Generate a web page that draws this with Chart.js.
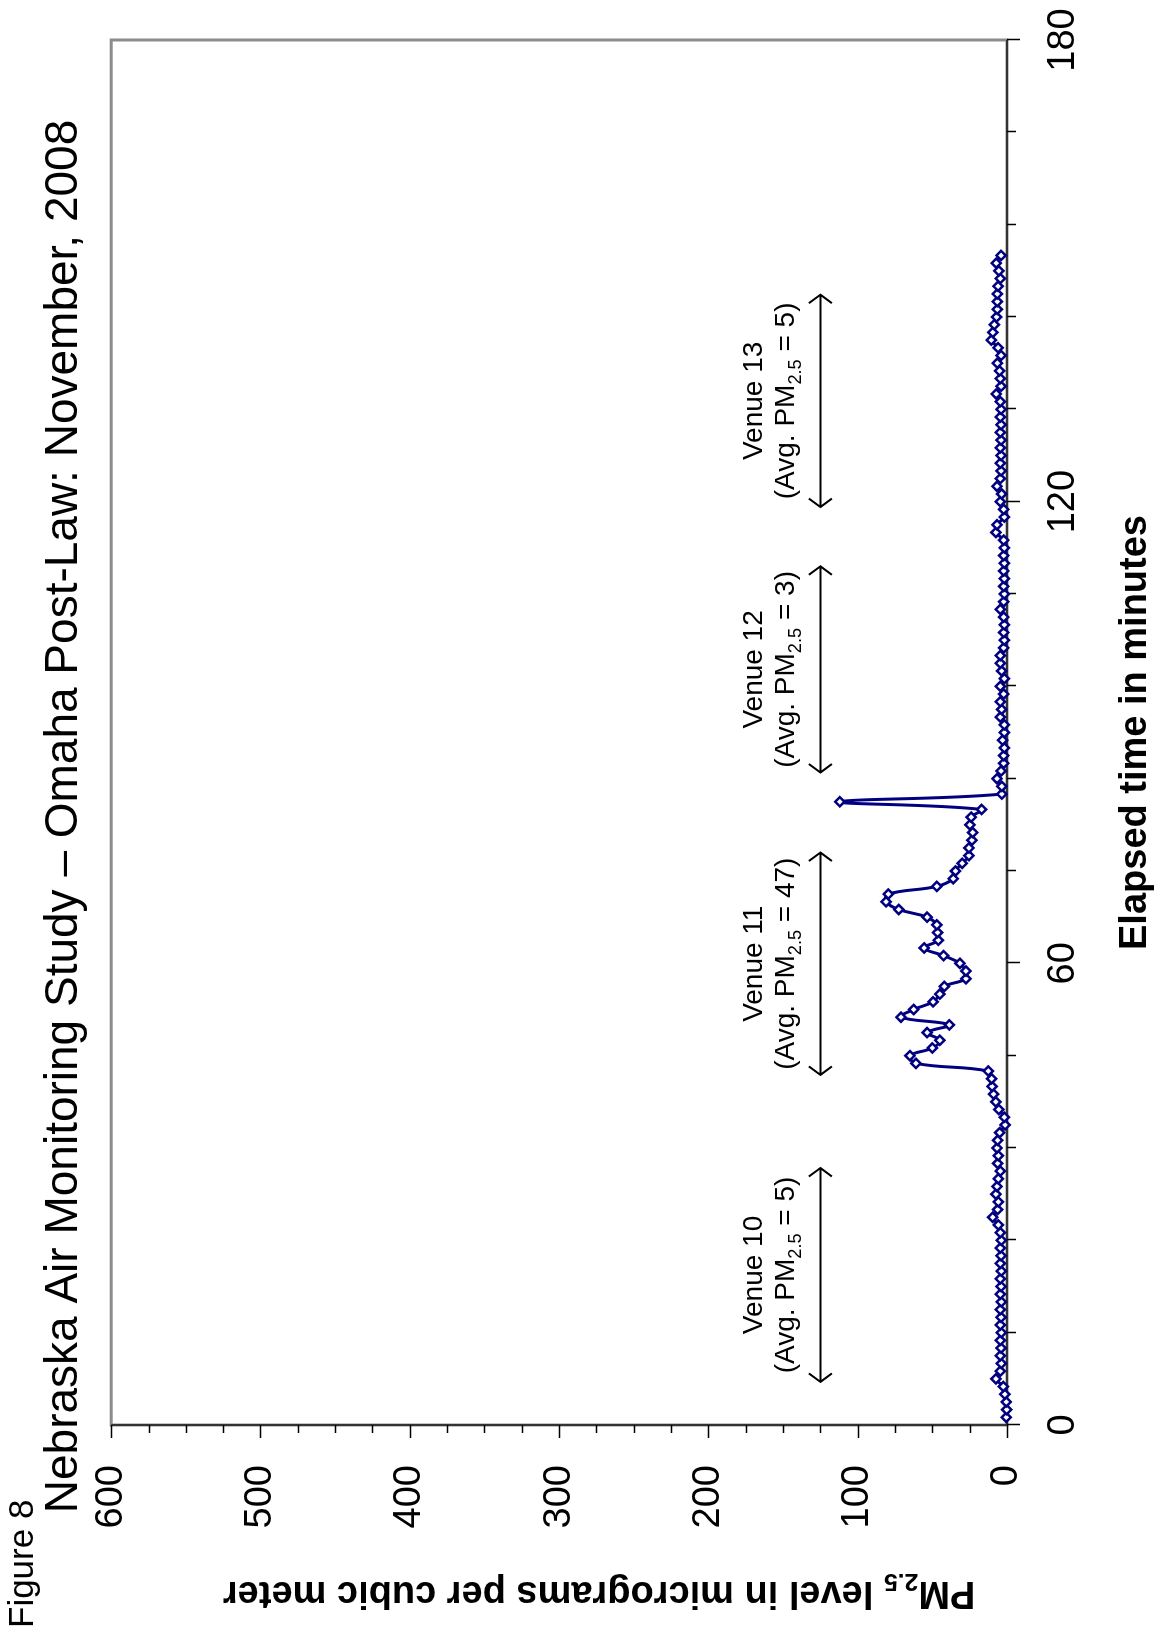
<!DOCTYPE html>
<html><head><meta charset="utf-8">
<script src="https://cdn.jsdelivr.net/npm/chart.js@4.4.1/dist/chart.umd.min.js"></script>
<style>
html,body{margin:0;padding:0;background:#fff;width:1164px;height:1640px;overflow:hidden;}
#wrap{position:absolute;left:0;top:0;width:1640px;height:1164px;transform-origin:0 0;transform:translate(0,1640px) rotate(-90deg);}
canvas{display:block;}
</style></head><body>
<div id="wrap"><canvas id="c" width="1640" height="1164"></canvas></div>
<script>
// ---- data (elapsed minutes, PM2.5 µg/m³) ----
const minutes = [1,2,3,4,5,6,7,8,9,10,11,12,13,14,15,16,17,18,19,20,21,22,23,24,25,26,27,28,29,30,
31,32,33,34,35,36,37,38,39,40,41,42,43,44,45,46,47,48,49,50,51,52,53,54,55,56,57,58,59,60,
61,62,63,64,65,66,67,68,69,70,71,72,73,74,75,76,77,78,79,80,81,82,83,84,85,86,87,88,89,90,
91,92,93,94,95,96,97,98,99,100,101,102,103,104,105,106,107,108,109,110,111,112,113,114,115,116,117,118,119,120,
121,122,123,124,125,126,127,128,129,130,131,132,133,134,135,136,137,138,139,140,141,142,143,144,145,146,147,148,149,150,151,152];
const pm25 = [0.5,0.2,0.5,1.5,2.5,7.4,4.5,3.8,4.5,4.0,4.5,3.8,4.5,4.0,4.5,3.8,4.5,4.0,4.5,3.8,4.5,4.0,4.5,3.8,4.5,5.8,9.6,6.3,5.8,7.4,
6.7,5.8,4.5,6.3,5.8,6.7,6.3,4.9,1.3,1.8,5.5,7.5,9.0,10.0,10.3,12.5,61,65,50,45,53.5,38.6,71,62.5,49.5,45,42,27.5,27.5,31.5,
42.5,55.5,46,46.5,47,53.5,72.5,81,79.5,47,36,34.5,30,25.5,25.5,23.5,23,24.8,24,17,112,3.5,3.5,6.7,4,2.2,2.2,1.8,3,1.8,
1.8,4.5,3.6,4.5,2.2,4.5,1.8,3.6,4.5,4.5,2.2,1.8,2.2,1.8,2.2,4.5,2.2,1.8,2.2,1.8,2.2,1.8,2.2,1.8,2.2,7.4,6.7,1.8,2.2,4.5,
3.6,6.7,4.5,4,4.5,4,4.5,4,4.5,4,4.5,4,4.5,7.2,4,4.5,5,6.5,4,6,10.5,9.5,8.5,7,6.5,6.5,6.5,6,4.5,5.5,7.2,4];
const timeTickLabels = [0,60,120,180];
const pmTickLabels = [0,100,200,300,400,500,600];
const venueNames = ['Venue 10','Venue 11','Venue 12','Venue 13'];
const venueAvg = ['5','47','3','5'];
const venueStart = [5.6,45.5,84.8,119.3];
const venueEnd = [33.4,74.4,111.6,146.9];
const arrowLevel = [125,125,125,125];

const FONT = '"Liberation Sans", Arial, Helvetica, sans-serif';
Chart.defaults.font.family = FONT;
Chart.defaults.color = '#000';

function drawRich(ctx, parts, cx, baseY, size, bold) {
  const f = s => (bold ? 'bold ' : '') + s + 'px ' + FONT;
  let total = 0;
  parts.forEach(p => { ctx.font = f(p.sub ? size * 0.65 : size); p.w = ctx.measureText(p.t).width; total += p.w; });
  let x = cx - total / 2;
  ctx.textAlign = 'left'; ctx.textBaseline = 'alphabetic';
  parts.forEach(p => { ctx.font = f(p.sub ? size * 0.65 : size); ctx.fillText(p.t, x, baseY + (p.sub ? size * 0.22 : 0)); x += p.w; });
}

const deco = {
  id: 'deco',
  beforeDatasetsDraw(chart) {
    const {ctx, chartArea: a, scales: {x, y}} = chart;
    ctx.save();
    ctx.strokeStyle = '#8c8c8c'; ctx.lineWidth = 3;
    ctx.strokeRect(a.left, a.top, a.right - a.left, a.bottom - a.top);
    ctx.strokeStyle = '#333'; ctx.lineWidth = 2;
    ctx.beginPath();
    ctx.moveTo(a.left, a.top); ctx.lineTo(a.left, a.bottom);
    ctx.moveTo(a.left, a.bottom); ctx.lineTo(a.right, a.bottom);
    ctx.stroke();
    ctx.strokeStyle = '#000'; ctx.lineWidth = 1.5;
    ctx.beginPath();
    for (let v = 0; v <= 600; v += 25) {
      const py = Math.round(y.getPixelForValue(v)) + 0.5;
      const len = pmTickLabels.includes(v) ? 13 : 8;
      ctx.moveTo(a.left, py); ctx.lineTo(a.left - len, py);
    }
    for (let t = 0; t <= 180; t += 12) {
      const px = Math.round(x.getPixelForValue(t)) + 0.5;
      const len = timeTickLabels.includes(t) ? 13 : 9;
      ctx.moveTo(px, a.bottom); ctx.lineTo(px, a.bottom + len);
    }
    ctx.stroke();
    ctx.restore();
  },
  afterDraw(chart) {
    const {ctx, chartArea: a, scales: {x, y}} = chart;
    ctx.save();
    ctx.fillStyle = '#000';
    // venue annotations
    ctx.strokeStyle = '#000'; ctx.lineWidth = 2;
    venueNames.forEach((name, i) => {
      const x0 = x.getPixelForValue(venueStart[i]);
      const x1 = x.getPixelForValue(venueEnd[i]);
      const py = y.getPixelForValue(arrowLevel[i]);
      ctx.beginPath();
      ctx.moveTo(x0, py); ctx.lineTo(x1, py);
      ctx.moveTo(x0 + 8.5, py - 11.5); ctx.lineTo(x0, py); ctx.lineTo(x0 + 8.5, py + 11.5);
      ctx.moveTo(x1 - 8.5, py - 11.5); ctx.lineTo(x1, py); ctx.lineTo(x1 - 8.5, py + 11.5);
      ctx.stroke();
      const cx = (x0 + x1) / 2;
      ctx.font = '28px ' + FONT; ctx.textAlign = 'center'; ctx.textBaseline = 'alphabetic';
      ctx.fillText(name, cx, py - 58);
      drawRich(ctx, [{t: '(Avg. PM'}, {t: '2.5', sub: true}, {t: ' = ' + venueAvg[i] + ')'}], cx, py - 26, 28, false);
    });
    // y axis title (with subscript)
    ctx.save();
    ctx.translate(58, (a.top + a.bottom) / 2 + 40);
    ctx.rotate(-Math.PI / 2);
    drawRich(ctx, [{t: 'PM'}, {t: '2.5', sub: true}, {t: ' level in micrograms per cubic meter'}], 0, 0, 38, true);
    ctx.restore();
    // figure label
    ctx.font = '35px ' + FONT; ctx.textAlign = 'left'; ctx.textBaseline = 'alphabetic';
    ctx.fillText('Figure 8', 12, 33);
    ctx.restore();
  }
};

new Chart(document.getElementById('c'), {
  type: 'line',
  data: {
    datasets: [{
      data: minutes.map((m, i) => ({x: m, y: pm25[i]})),
      borderColor: '#000080',
      borderWidth: 3,
      tension: 0.4,
      pointStyle: 'rectRot',
      pointRadius: 4.6,
      pointBorderWidth: 2.5,
      pointBorderColor: '#000080',
      pointBackgroundColor: '#ffffff',
      clip: false
    }]
  },
  options: {
    responsive: false,
    animation: false,
    devicePixelRatio: 1,
    layout: {padding: {left: 47, right: 40, top: 0, bottom: 0}},
    plugins: {
      legend: {display: false},
      tooltip: {enabled: false},
      title: {
        display: true,
        text: 'Nebraska Air Monitoring Study \u2013 Omaha Post-Law: November, 2008',
        color: '#000',
        font: {size: 46, weight: 'normal'},
        padding: {top: 37, bottom: 19}
      }
    },
    scales: {
      x: {
        type: 'linear', min: 0, max: 180,
        ticks: {stepSize: 60, padding: 34, color: '#000', font: {size: 38}, maxRotation: 0, autoSkip: false},
        grid: {display: true, drawOnChartArea: false, drawTicks: false},
        border: {display: false},
        title: {display: true, text: 'Elapsed time in minutes', color: '#000', font: {size: 38, weight: 'bold'}, padding: {top: 0, bottom: 6}},
        afterFit: s => { s.height = 157; s.paddingLeft = 0; s.paddingRight = 0; }
      },
      y: {
        type: 'linear', min: 0, max: 600,
        ticks: {stepSize: 100, padding: 40, color: '#000', font: {size: 38}},
        grid: {display: true, drawOnChartArea: false, drawTicks: false},
        border: {display: false},
        afterFit: s => { s.width = 168; s.paddingTop = 0; s.paddingBottom = 0; }
      }
    }
  },
  plugins: [deco]
});
</script>
</body></html>
